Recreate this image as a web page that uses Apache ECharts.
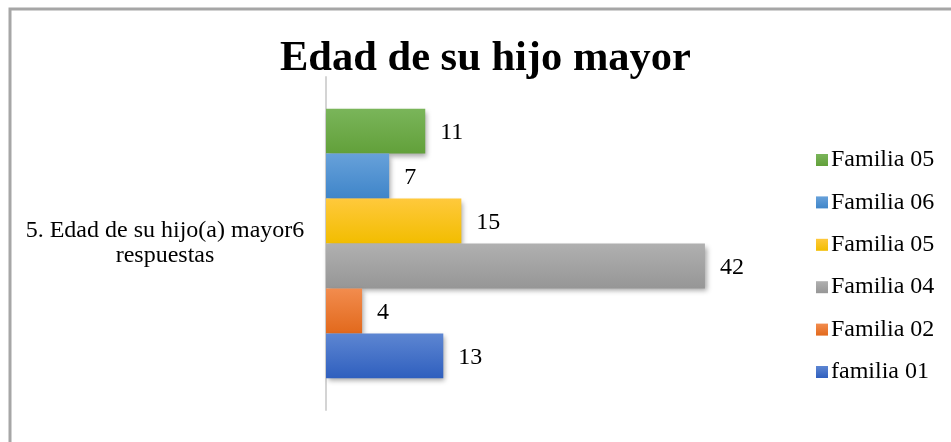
<!DOCTYPE html>
<html>
<head>
<meta charset="utf-8">
<script src="https://cdn.jsdelivr.net/npm/echarts@6/dist/echarts.min.js"></script>
<style>
  html, body { margin: 0; padding: 0; background: #fff; }
  #chart { width: 951px; height: 442px; }
</style>
</head>
<body>
<div id="chart"></div>
<script>
var categories = ['5. Edad de su hijo(a) mayor6\nrespuestas'];
// series from top bar to bottom bar (same order as the legend)
var seriesNames = ['Familia 05', 'Familia 06', 'Familia 05 ', 'Familia 04', 'Familia 02', 'familia 01'];
var seriesValues = [11, 7, 15, 42, 4, 13];
// gradient top / bottom colours
var topColors = ['#7ab55a', '#67a1da', '#ffc93c', '#b0b0b0', '#f28c4e', '#5d86d2'];
var bottomColors = ['#62a03a', '#3f85c9', '#f2bd00', '#969696', '#e2691c', '#2f5fbe'];

var chart = echarts.init(document.getElementById('chart'));

var series = seriesNames.map(function (name, i) {
  return {
    name: name,
    type: 'bar',
    barGap: '0%',
    barCategoryGap: '19%',
    data: [seriesValues[i]],
    itemStyle: {
      color: new echarts.graphic.LinearGradient(0, 0, 0, 1, [
        {offset: 0, color: topColors[i]},
        {offset: 1, color: bottomColors[i]}
      ]),
      shadowColor: 'rgba(0,0,0,0.35)',
      shadowBlur: 5,
      shadowOffsetX: 2,
      shadowOffsetY: 3
    },
    label: {
      show: true,
      position: 'right',
      distance: 15,
      offset: [0, 2],
      color: '#000',
      fontFamily: 'Liberation Serif',
      fontSize: 24
    }
  };
});

var option = {
  animation: false,
  backgroundColor: '#fff',
  title: {
    text: 'Edad de su hijo mayor',
    left: 275,
    top: 33,
    textStyle: {
      fontFamily: 'Liberation Serif',
      fontWeight: 'bold',
      fontSize: 42.5,
      color: '#000'
    }
  },
  legend: {
    orient: 'vertical',
    left: 811,
    top: 143,
    icon: 'rect',
    itemWidth: 12,
    itemHeight: 12,
    itemGap: 18.4,
    data: seriesNames,
    textStyle: {
      fontFamily: 'Liberation Serif',
      fontSize: 24,
      lineHeight: 22,
      color: '#000',
      padding: [0, 0, 0, -2]
    }
  },
  grid: {left: 326, right: 219, top: 77, bottom: 32},
  xAxis: {
    type: 'value',
    min: 0,
    max: 45,
    show: false
  },
  yAxis: {
    type: 'category',
    data: categories,
    axisLine: {lineStyle: {color: '#d4d4d4', width: 2}},
    axisTick: {show: false},
    axisLabel: {
      align: 'center',
      margin: 161,
      color: '#000',
      fontFamily: 'Liberation Serif',
      fontSize: 24,
      lineHeight: 25
    }
  },
  graphic: [{
    type: 'rect',
    shape: {x: 10, y: 9, width: 960, height: 460},
    style: {fill: 'none', stroke: '#a6a6a6', lineWidth: 3}
  }],
  series: series
};

chart.setOption(option);
</script>
</body>
</html>
